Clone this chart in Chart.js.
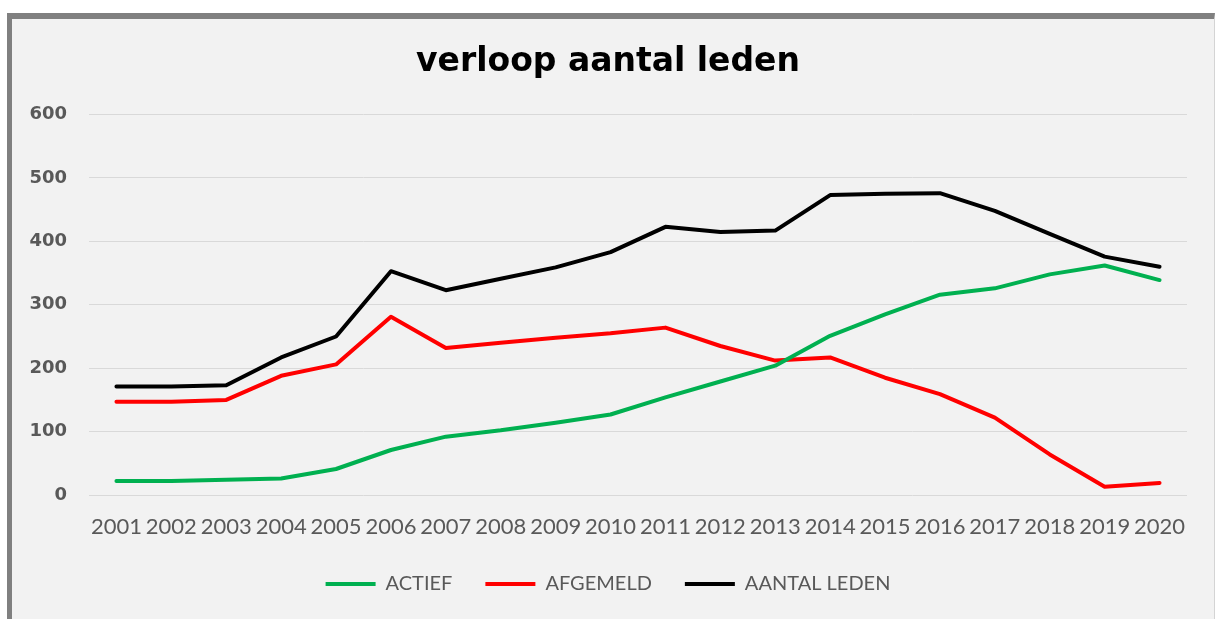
<!DOCTYPE html>
<html>
<head>
<meta charset="utf-8">
<title>verloop aantal leden</title>
<script src="https://cdn.jsdelivr.net/npm/chart.js@4"></script>
<style>
    html, body {
        margin: 0;
        padding: 0;
        background: #ffffff;
        width: 1215px;
        height: 619px;
        overflow: hidden;
    }
    .frame {
        position: absolute;
        left: 7px;
        top: 13px;
        width: 1202px;
        height: 620px;
        background: #f2f2f2;
        border-top: 6px solid #808080;
        border-left: 5px solid #808080;
        border-right: 1px solid #d4d4d4;
    }
    .chart-box {
        position: absolute;
        left: 0;
        top: 0;
        width: 1215px;
        height: 619px;
    }
</style>
</head>
<body>
<div class="frame"></div>
<div class="chart-box">
    <canvas id="ledenChart" width="1215" height="619"></canvas>
</div>
<script>
// Data
const jaren = ['2001', '2002', '2003', '2004', '2005', '2006', '2007', '2008', '2009', '2010',
               '2011', '2012', '2013', '2014', '2015', '2016', '2017', '2018', '2019', '2020'];
const actief = [22, 22, 24, 26, 41, 71, 92, 102, 114, 127, 154, 179, 204, 251, 285, 316, 326, 348, 362, 339];
const afgemeld = [147, 147, 150, 188, 206, 281, 232, 240, 248, 255, 264, 235, 212, 217, 185, 159, 122, 64, 13, 19];
const aantalLeden = [171, 171, 173, 217, 250, 353, 323, 341, 359, 383, 423, 415, 417, 473, 475, 476, 448, 412, 376, 360];
const yTicks = [0, 100, 200, 300, 400, 500, 600];

const tickColor = '#595959';
const gridColor = '#d9d9d9';

function lineSet(label, data, color) {
    return {
        label: label,
        data: data,
        borderColor: color,
        backgroundColor: color,
        borderWidth: 4,
        borderCapStyle: 'round',
        borderJoinStyle: 'round',
        pointRadius: 0,
        pointHoverRadius: 0,
        tension: 0,
        fill: false
    };
}

function initChart() {
    const ctx = document.getElementById('ledenChart');
    new Chart(ctx, {
        type: 'line',
        data: {
            labels: jaren,
            datasets: [
                lineSet('ACTIEF', actief, '#00b050'),
                lineSet('AFGEMELD', afgemeld, '#ff0000'),
                lineSet('AANTAL LEDEN', aantalLeden, '#000000')
            ]
        },
        options: {
            responsive: false,
            animation: false,
            layout: {
                padding: { left: 29, right: 28, top: 0, bottom: 15 }
            },
            plugins: {
                title: {
                    display: true,
                    text: 'verloop aantal leden',
                    color: '#000000',
                    font: { family: 'DejaVu Sans', size: 33, weight: 'bold' },
                    padding: { top: 43, bottom: 32 }
                },
                legend: {
                    position: 'bottom',
                    labels: {
                        usePointStyle: true,
                        pointStyle: 'line',
                        pointStyleWidth: 50,
                        boxHeight: 4,
                        padding: 33,
                        color: tickColor,
                        font: { family: 'Lato', size: 20 }
                    }
                },
                tooltip: { enabled: false }
            },
            scales: {
                x: {
                    offset: true,
                    grid: { display: false, drawTicks: false },
                    border: { display: false },
                    ticks: {
                        color: tickColor,
                        padding: 19,
                        maxRotation: 0,
                        autoSkip: false,
                        font: { family: 'Lato', size: 22 }
                    },
                    afterFit(scale) {
                        // only keep the padding above the labels
                        scale.height = 46;
                    }
                },
                y: {
                    min: 0,
                    max: 600,
                    afterBuildTicks(scale) {
                        scale.ticks = yTicks.map(v => ({ value: v }));
                    },
                    grid: { color: gridColor, lineWidth: 1, drawTicks: false },
                    border: { display: false },
                    ticks: {
                        color: tickColor,
                        padding: 22,
                        font: { family: 'DejaVu Sans', size: 18, weight: 'bold' }
                    },
                    afterFit(scale) {
                        scale.width = 60;
                    }
                }
            }
        }
    });
}

document.addEventListener('DOMContentLoaded', initChart);
</script>
</body>
</html>
